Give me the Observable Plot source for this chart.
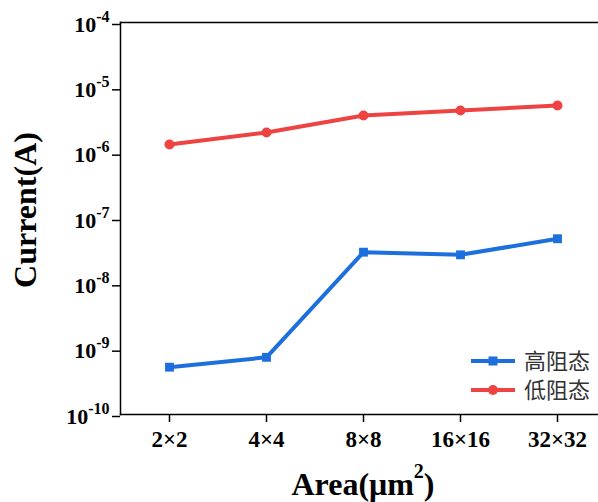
<!DOCTYPE html>
<html>
<head>
<meta charset="utf-8">
<script src="https://cdn.jsdelivr.net/npm/d3@7"></script>
<script src="https://cdn.jsdelivr.net/npm/@observablehq/plot@0.6"></script>
<style>
  html, body { margin: 0; padding: 0; background: #fff; overflow: hidden; }
</style>
</head>
<body>
<div id="chart"></div>
<script>
// ---- data ----
const areas = ["2×2", "4×4", "8×8", "16×16", "32×32"];
const highResistance = [5.3e-10, 7.5e-10, 3.05e-8, 2.78e-8, 4.9e-8];
const lowResistance = [1.36e-6, 2.07e-6, 3.77e-6, 4.5e-6, 5.37e-6];
const yTicks = [1e-10, 1e-9, 1e-8, 1e-7, 1e-6, 1e-5, 1e-4];
const seriesNames = ["高阻态", "低阻态"];
const seriesColors = ["#1c6fdd", "#ee4343"];
const xLabelMain = "Area(μm";
const xLabelSup = "2";
const xLabelEnd = ")";
const yLabel = "Current(A)";

const hrsData = areas.map((a, i) => ({ area: a, current: highResistance[i], state: seriesNames[0] }));
const lrsData = areas.map((a, i) => ({ area: a, current: lowResistance[i], state: seriesNames[1] }));
const allData = hrsData.concat(lrsData);

const serif = "Times New Roman, Liberation Serif, DejaVu Serif, serif";

const chart = Plot.plot({
  width: 598,
  height: 502,
  marginTop: 22,
  marginLeft: 120,
  marginRight: 0,
  marginBottom: 88,
  style: { fontFamily: serif, background: "#fff", color: "#000", overflow: "hidden" },
  x: { type: "point", domain: areas, range: [120, 606], padding: 0.5, label: null },
  y: { type: "log", domain: [1e-10, 1e-4], label: null },
  color: { domain: seriesNames, range: seriesColors },
  marks: [
    Plot.frame({ anchor: "left", stroke: "#000", strokeWidth: 1.5 }),
    Plot.frame({ anchor: "top", stroke: "#000", strokeWidth: 1.5 }),
    Plot.frame({ anchor: "bottom", stroke: "#000", strokeWidth: 1.5 }),
    Plot.axisY(yTicks, {
      tickSize: 8, tickPadding: 3, strokeWidth: 1.5, fontSize: 22, fontWeight: "bold", dy: 2,
      fontFamily: serif,
      tickFormat: d => "10|" + Math.round(Math.log10(d)), label: null
    }),
    Plot.axisX({ tickSize: 8, tickPadding: 8, strokeWidth: 1.5, fontSize: 23, fontWeight: "bold", fontFamily: serif, label: null }),
    Plot.line(allData, { x: "area", y: "current", z: "state", stroke: "state", strokeWidth: 4 }),
    Plot.dot(hrsData, { x: "area", y: "current", fill: "state", symbol: "square", r: 5 }),
    Plot.dot(lrsData, { x: "area", y: "current", fill: "state", symbol: "circle", r: 5 })
  ]
});

const svg = d3.select(chart);
svg.selectAll('g[aria-label$="tick label"]').attr("font-weight", "bold").style("font-family", serif);

// superscript exponents on y tick labels
svg.selectAll('g[aria-label="y-axis tick label"] text').each(function () {
  const parts = this.textContent.split("|");
  const t = d3.select(this);
  t.text(null);
  t.append("tspan").text(parts[0]);
  t.append("tspan").attr("dy", -10).attr("font-size", 16).text(parts[1]);
});

// axis titles
svg.append("text")
  .attr("transform", "translate(36,210) rotate(-90)")
  .attr("text-anchor", "middle")
  .style("font-family", serif).attr("font-weight", "bold").attr("font-size", 32)
  .attr("fill", "#000")
  .text(yLabel);

const xt = svg.append("text")
  .attr("x", 363).attr("y", 495)
  .attr("text-anchor", "middle")
  .style("font-family", serif).attr("font-weight", "bold").attr("font-size", 32)
  .attr("fill", "#000");
xt.append("tspan").text(xLabelMain);
xt.append("tspan").attr("dy", -17).attr("font-size", 20).text(xLabelSup);
xt.append("tspan").attr("dy", 17).text(xLabelEnd);

// legend
const legend = svg.append("g").attr("class", "legend").attr("text-anchor", "start");
const legY = [361, 390];
seriesNames.forEach((name, i) => {
  const g = legend.append("g");
  g.append("line").attr("x1", 471).attr("x2", 515).attr("y1", legY[i]).attr("y2", legY[i])
    .attr("stroke", seriesColors[i]).attr("stroke-width", 4);
  if (i === 0) {
    g.append("rect").attr("x", 488.5).attr("y", legY[i] - 4.5).attr("width", 9).attr("height", 9)
      .attr("fill", seriesColors[i]);
  } else {
    g.append("circle").attr("cx", 493).attr("cy", legY[i]).attr("r", 5).attr("fill", seriesColors[i]);
  }
  g.append("text").attr("x", 524).attr("y", legY[i]).attr("dy", "0.36em")
    .attr("text-anchor", "start")
    .style("font-family", "'Noto Sans CJK SC', 'Noto Sans', sans-serif").attr("font-size", 22)
    .attr("fill", "#333").text(name);
});

document.getElementById("chart").appendChild(chart);
</script>
</body>
</html>
